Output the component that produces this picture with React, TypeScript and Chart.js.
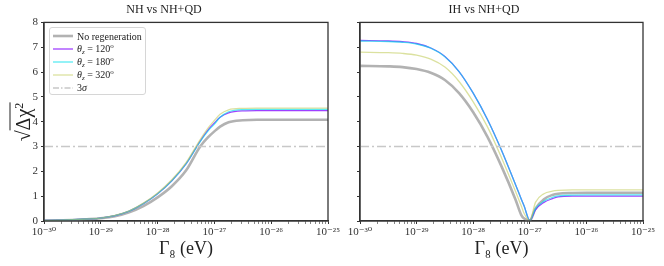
import React, { useEffect, useRef } from 'react';
import { Chart, registerables } from 'chart.js';
Chart.register(...registerables);

// ---- data (x values are log10(Γ8 / eV)) ----
const nhGammaExp = [-30, -29.75, -29.5, -29.25, -29, -28.75, -28.5, -28.25, -28, -27.75, -27.5, -27.25, -27.1, -27, -26.9, -26.75, -26.5, -26.25, -26, -25.5, -25];
const nhNoRegen = [0.02, 0.03, 0.04, 0.07, 0.11, 0.19, 0.35, 0.6, 0.95, 1.4, 2.03, 3.0, 3.4, 3.61, 3.8, 3.98, 4.06, 4.08, 4.08, 4.08, 4.08];
const nhTheta120 = [0.02, 0.03, 0.05, 0.08, 0.12, 0.22, 0.4, 0.7, 1.1, 1.62, 2.3, 3.22, 3.7, 3.95, 4.18, 4.36, 4.44, 4.45, 4.45, 4.45, 4.45];
const nhTheta180 = [0.02, 0.03, 0.05, 0.08, 0.12, 0.22, 0.4, 0.7, 1.1, 1.62, 2.3, 3.2, 3.66, 3.9, 4.18, 4.4, 4.49, 4.5, 4.5, 4.5, 4.5];
const nhTheta320 = [0.02, 0.03, 0.05, 0.08, 0.12, 0.23, 0.41, 0.72, 1.13, 1.66, 2.35, 3.28, 3.78, 4.05, 4.3, 4.48, 4.54, 4.55, 4.55, 4.55, 4.55];

const ihGammaExp = [-30, -29.5, -29.25, -29, -28.75, -28.5, -28.25, -28, -27.75, -27.5, -27.25, -27.15, -27.1, -27, -26.9, -26.75, -26.6, -26.5, -26.25, -26, -25.5, -25];
const ihNoRegen = [6.25, 6.23, 6.2, 6.12, 5.97, 5.68, 5.15, 4.38, 3.4, 2.2, 0.85, 0.24, 0.1, 0.02, 0.5, 0.88, 1.05, 1.1, 1.13, 1.14, 1.14, 1.14];
const ihTheta120 = [7.27, 7.25, 7.22, 7.15, 6.97, 6.63, 6.02, 5.15, 4.1, 2.85, 1.45, 0.88, 0.6, 0.02, 0.45, 0.75, 0.9, 0.97, 1.0, 1.0, 1.0, 1.0];
const ihTheta180 = [7.25, 7.23, 7.2, 7.13, 6.96, 6.62, 6.02, 5.15, 4.1, 2.85, 1.45, 0.88, 0.6, 0.02, 0.5, 0.8, 0.95, 1.01, 1.04, 1.05, 1.05, 1.05];
const ihTheta320 = [6.8, 6.78, 6.75, 6.68, 6.52, 6.2, 5.62, 4.8, 3.8, 2.55, 1.18, 0.6, 0.3, 0.02, 0.75, 1.1, 1.2, 1.23, 1.25, 1.25, 1.25, 1.25];

const sigmaLevel = 3;
const decadeExps = [-30, -29, -28, -27, -26, -25];
const yMin = 0;
const yMax = 8;

const SERIF = '"Liberation Serif", "DejaVu Serif", serif';
const COLORS = {
  gray: 'rgba(165,165,165,0.85)',
  purple: 'rgba(128,0,255,0.75)',
  cyan: 'rgba(0,225,235,0.65)',
  yellow: 'rgba(190,200,80,0.55)',
  sigma: '#c8c8c8',
  axis: '#333333',
};

const SUP: Record<string, string> = { '-': '⁻', '0': '⁰', '1': '¹', '2': '²', '3': '³', '4': '⁴', '5': '⁵', '6': '⁶', '7': '⁷', '8': '⁸', '9': '⁹' };
const powerLabel = (e: number) => '10' + String(e).split('').map((c) => SUP[c] ?? c).join('');

const isInt = (v: number) => Math.abs(v - Math.round(v)) < 1e-9;

function buildXTicks(): number[] {
  const out: number[] = [];
  for (let i = 0; i < decadeExps.length; i++) {
    const n = decadeExps[i];
    out.push(n);
    if (i < decadeExps.length - 1) {
      for (let k = 2; k <= 9; k++) out.push(n + Math.log10(k));
    }
  }
  return out;
}

const framePlugin = {
  id: 'frame',
  afterDatasetsDraw(chart: any) {
    const { ctx, chartArea } = chart;
    ctx.save();
    ctx.strokeStyle = COLORS.axis;
    ctx.lineWidth = 1.3;
    ctx.strokeRect(chartArea.left, chartArea.top, chartArea.right - chartArea.left, chartArea.bottom - chartArea.top);
    ctx.restore();
  },
};

type PanelProps = {
  left: number;
  width: number;
  padRight: number;
  yWidth: number;
  title: string;
  xs: number[];
  gray: number[];
  purple: number[];
  cyan: number[];
  yellow: number[];
  showYLabels: boolean;
};

function Panel(p: PanelProps) {
  const ref = useRef<HTMLCanvasElement | null>(null);
  useEffect(() => {
    if (!ref.current) return;
    const toPts = (ys: number[]) => p.xs.map((x, i) => ({ x, y: ys[i] }));
    const xTicks = buildXTicks();
    const line = (label: string, ys: number[], color: string, width: number, order: number) => ({
      label,
      data: toPts(ys),
      borderColor: color,
      backgroundColor: color,
      borderWidth: width,
      pointRadius: 0,
      cubicInterpolationMode: 'monotone' as const,
      fill: false,
      order,
    });
    const chart = new Chart(ref.current, {
      type: 'line',
      data: {
        datasets: [
          line('No regeneration', p.gray, COLORS.gray, 2.6, 5),
          line('θz = 120°', p.purple, COLORS.purple, 1.3, 4),
          line('θz = 180°', p.cyan, COLORS.cyan, 1.3, 3),
          line('θz = 320°', p.yellow, COLORS.yellow, 1.3, 2),
          {
            label: '3σ',
            data: [
              { x: decadeExps[0], y: sigmaLevel },
              { x: decadeExps[decadeExps.length - 1], y: sigmaLevel },
            ],
            borderColor: COLORS.sigma,
            borderWidth: 1.4,
            borderDash: [9, 3, 2, 3],
            pointRadius: 0,
            fill: false,
            order: 1,
          },
        ],
      },
      options: {
        animation: false,
        responsive: false,
        devicePixelRatio: 1,
        layout: { padding: { left: 0, right: p.padRight, top: 0, bottom: 0 } },
        plugins: {
          legend: { display: false },
          tooltip: { enabled: false },
          title: {
            display: true,
            text: p.title,
            color: '#222',
            font: { family: SERIF, size: 12, weight: 'normal' },
            padding: { top: 3, bottom: 5 },
          },
        },
        scales: {
          x: {
            type: 'linear',
            min: decadeExps[0],
            max: decadeExps[decadeExps.length - 1],
            afterBuildTicks: (scale: any) => {
              scale.ticks = xTicks.map((v) => ({ value: v, major: isInt(v) }));
            },
            afterFit: (scale: any) => {
              scale.height = 45;
            },
            ticks: {
              autoSkip: false,
              maxRotation: 0,
              padding: 2,
              color: '#333',
              font: { family: SERIF, size: 11 },
              callback: (v: any) => (isInt(Number(v)) ? powerLabel(Math.round(Number(v))) : ''),
            },
            grid: {
              drawOnChartArea: false,
              drawTicks: true,
              tickLength: 3,
              tickColor: COLORS.axis,
              tickWidth: (ctx: any) => (ctx.tick && ctx.tick.major ? 1 : 0.6),
            },
            border: { color: COLORS.axis, width: 1.3 },
            title: {
              display: true,
              text: 'Γ₈ (eV)',
              color: '#222',
              font: { family: SERIF, size: 18 },
              padding: { top: 0, bottom: 6 },
            },
          },
          y: {
            type: 'linear',
            min: yMin,
            max: yMax,
            afterFit: (scale: any) => {
              scale.width = p.yWidth;
            },
            ticks: {
              stepSize: 1,
              padding: 3,
              color: '#333',
              font: { family: SERIF, size: 11 },
              callback: (v: any) => (p.showYLabels ? String(v) : ''),
            },
            grid: {
              drawOnChartArea: false,
              drawTicks: true,
              tickLength: 3,
              tickColor: COLORS.axis,
            },
            border: { color: COLORS.axis, width: 1.3 },
          },
        },
      } as any,
      plugins: [framePlugin],
    });
    return () => chart.destroy();
  }, []);
  return (
    <canvas
      ref={ref}
      width={p.width}
      height={266}
      style={{ position: 'absolute', left: p.left, top: 0, width: p.width, height: 266 }}
    />
  );
}

const subStyle = { fontSize: 7, verticalAlign: 'baseline', position: 'relative' as const, top: 2 };
const supStyle = { fontSize: 7, verticalAlign: 'baseline', position: 'relative' as const, top: -4 };
const thetaText = (deg: string) => (
  <span>
    <i>θ</i>
    <i style={subStyle}>z</i> = {deg}
    <span style={supStyle}>o</span>
  </span>
);

const legendRows = [
  { key: 'nr', color: COLORS.gray, width: 2.6, dash: '', text: <span>No regeneration</span> },
  { key: 't120', color: COLORS.purple, width: 1.3, dash: '', text: thetaText('120') },
  { key: 't180', color: COLORS.cyan, width: 1.3, dash: '', text: thetaText('180') },
  { key: 't320', color: COLORS.yellow, width: 1.3, dash: '', text: thetaText('320') },
  { key: 's3', color: COLORS.sigma, width: 1.4, dash: '6 2 1.5 2', text: <span>3<i>σ</i></span> },
];

function Legend() {
  return (
    <div
      style={{
        position: 'absolute',
        left: 49,
        top: 27,
        width: 97,
        height: 68,
        border: '1px solid #d6d6d6',
        borderRadius: 3,
        background: 'rgba(255,255,255,0.85)',
        fontFamily: SERIF,
        fontSize: 10,
        color: '#222',
        boxSizing: 'border-box',
      }}
    >
      {legendRows.map((r, i) => (
        <div
          key={r.key}
          style={{ position: 'absolute', left: 0, top: 1.5 + i * 12.9, height: 13, width: '100%', lineHeight: '13px', whiteSpace: 'nowrap' }}
        >
          <svg width={20} height={12} style={{ position: 'absolute', left: 3, top: 0.5 }}>
            <line x1={0} y1={6} x2={20} y2={6} stroke={r.color} strokeWidth={r.width} strokeDasharray={r.dash || undefined} />
          </svg>
          <span style={{ position: 'absolute', left: 27, top: 0 }}>{r.text}</span>
        </div>
      ))}
    </div>
  );
}

export default function App() {
  return (
    <div style={{ position: 'fixed', left: 0, top: 0, width: 664, height: 266, background: '#fff', overflow: 'hidden' }}>
      <Panel
        left={0}
        width={348}
        padRight={20}
        yWidth={44}
        title="NH vs NH+QD"
        xs={nhGammaExp}
        gray={nhNoRegen}
        purple={nhTheta120}
        cyan={nhTheta180}
        yellow={nhTheta320}
        showYLabels={true}
      />
      <Panel
        left={325}
        width={339}
        padRight={21}
        yWidth={35}
        title="IH vs NH+QD"
        xs={ihGammaExp}
        gray={ihNoRegen}
        purple={ihTheta120}
        cyan={ihTheta180}
        yellow={ihTheta320}
        showYLabels={false}
      />
      <Legend />
      <div
        style={{
          position: 'absolute',
          left: 24,
          top: 122,
          transform: 'translate(-50%, -50%) rotate(-90deg)',
          fontFamily: SERIF,
          fontSize: 20,
          color: '#222',
          whiteSpace: 'nowrap',
          lineHeight: '22px',
        }}
      >
        √<span style={{ borderTop: '1px solid #222', paddingTop: 1 }}>Δχ<span style={{ fontSize: 12, position: 'relative', top: -7 }}>2</span></span>
      </div>
    </div>
  );
}
